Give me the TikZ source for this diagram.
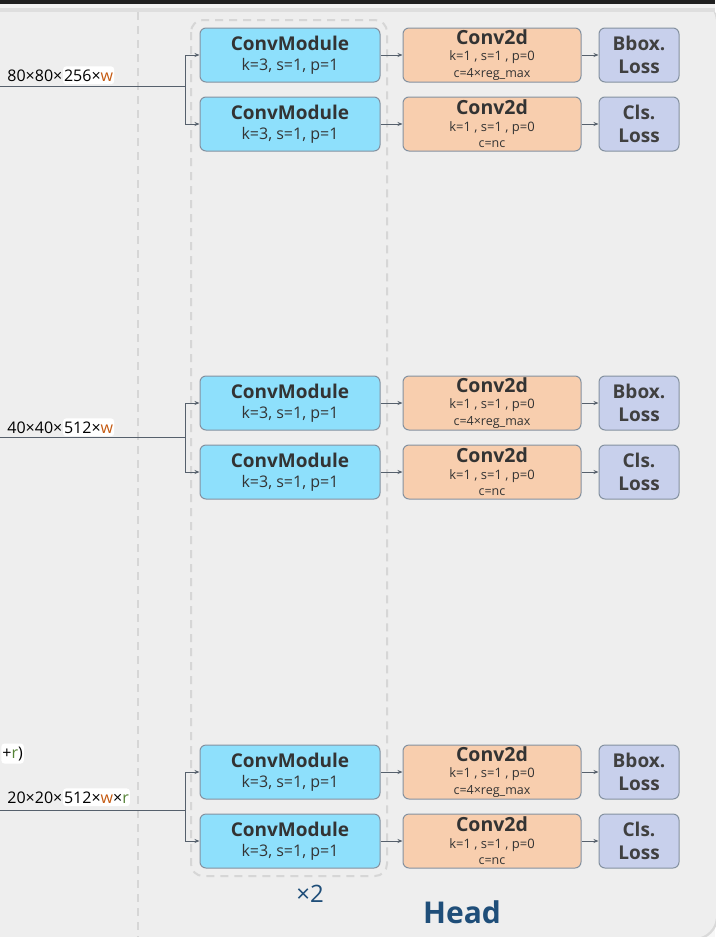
\documentclass[tikz,border=0pt]{standalone}
\usepackage{fontspec}
\setmainfont{Open Sans}
\usetikzlibrary{positioning,arrows.meta}

\definecolor{panel}{HTML}{EEEEEE}
\definecolor{cmfill}{HTML}{8EE0FC}
\definecolor{cdfill}{HTML}{F8CEAE}
\definecolor{lossfill}{HTML}{C8D0EC}
\definecolor{boxline}{HTML}{8491A0}
\definecolor{wire}{HTML}{56606C}
\definecolor{txt}{HTML}{333333}
\definecolor{wcol}{HTML}{C55A11}
\definecolor{rcol}{HTML}{548235}
\definecolor{headblue}{HTML}{1F4E79}
\definecolor{dashgray}{HTML}{D6D6D6}

\newcommand{\cmtext}{{\fontsize{19}{19}\selectfont\bfseries ConvModule}\\k=3, s=1, p=1}
\newcommand{\cdtext}[1]{{\fontsize{19.5}{19}\selectfont\bfseries Conv2d}\\k=1 , s=1 , p=0\\{\fontsize{12.5}{16}\selectfont #1}}

\begin{document}
\begin{tikzpicture}[x=1pt,y=-1pt,node distance=14pt and 22pt,thick,
  >={Stealth[length=5pt,width=4pt]},
  conv node/.style={rectangle,rounded corners=6pt,draw=boxline,line width=1pt,
    fill=cmfill,text=txt,minimum width=180pt,minimum height=54pt,
    align=center,inner sep=0pt,font=\fontsize{16}{19.5}\selectfont},
  head node/.style={conv node,fill=cdfill,minimum width=178pt,
    font=\fontsize{13}{16.5}\selectfont},
  loss node/.style={conv node,fill=lossfill,minimum width=80pt,text=black!75,
    font=\fontsize{19}{23}\selectfont\bfseries},
  size label/.style={inner sep=0pt,font=\fontsize{16}{18}\selectfont,text=black},
  white patch/.style={size label,fill=white,rounded corners=3pt,inner xsep=1pt,inner ysep=3pt}]

  % frame
  \useasboundingbox (0,0) rectangle (715,937);
  \fill[white!97!black] (0,0) rectangle (715,937);
  \fill[white!85!black,rounded corners=23pt] (-20,0) rectangle (718,940);
  \fill[panel,rounded corners=22pt] (-20,0) rectangle (716,938);
  \fill[black!88] (0,0) rectangle (715,4);
  \fill[white!95!black] (0,4) rectangle (715,8);
  \fill[white!87!black] (0,8) rectangle (715,12);
  \draw[dashgray,line width=2pt,dash pattern=on 8pt off 6pt] (138,12) -- (138,937);
  \draw[dashgray,line width=2pt,dash pattern=on 8pt off 6pt,rounded corners=12pt]
    (191,20) rectangle (387,876);

  % level 1
  \node[conv node] (c1a) at (290,55) {\cmtext};
  \node[conv node] (c1b) [below=of c1a] {\cmtext};
  \node[head node] (d1a) [right=of c1a] {\cdtext{c=4×reg\_max}};
  \node[head node] (d1b) [right=of c1b] {\cdtext{c=nc}};
  \node[loss node] (l1a) [right=17pt of d1a] {Bbox.\\Loss};
  \node[loss node] (l1b) [right=17pt of d1b] {Cls.\\Loss};

  % level 2
  \node[conv node] (c2a) at (290,403) {\cmtext};
  \node[conv node] (c2b) [below=of c2a] {\cmtext};
  \node[head node] (d2a) [right=of c2a] {\cdtext{c=4×reg\_max}};
  \node[head node] (d2b) [right=of c2b] {\cdtext{c=nc}};
  \node[loss node] (l2a) [right=17pt of d2a] {Bbox.\\Loss};
  \node[loss node] (l2b) [right=17pt of d2b] {Cls.\\Loss};

  % level 3
  \node[conv node] (c3a) at (290,772) {\cmtext};
  \node[conv node] (c3b) [below=of c3a] {\cmtext};
  \node[head node] (d3a) [right=of c3a] {\cdtext{c=4×reg\_max}};
  \node[head node] (d3b) [right=of c3b] {\cdtext{c=nc}};
  \node[loss node] (l3a) [right=17pt of d3a] {Bbox.\\Loss};
  \node[loss node] (l3b) [right=17pt of d3b] {Cls.\\Loss};

  % inputs
  \coordinate (in1) at (0,86);
  \coordinate (br1) at (185,86);
  \coordinate (in2) at (0,437);
  \coordinate (br2) at (185,437);
  \coordinate (in3) at (0,810);
  \coordinate (br3) at (185,810);

  \node[size label,anchor=base west] (t1a) at (7,81) {80×80×};
  \node[white patch,anchor=base west] (t1b) at (t1a.base east) {256×\textcolor{wcol}{w}};
  \node[size label,anchor=base west] (t2a) at (7,433) {40×40×};
  \node[white patch,anchor=base west] (t2b) at (t2a.base east) {512×\textcolor{wcol}{w}};
  \node[white patch,anchor=base west] (t0) at (1,758) {+\textcolor{rcol}{r})};
  \node[size label,anchor=base west] (t3a) at (7,803) {20×20×};
  \node[white patch,anchor=base west] (t3b) at (t3a.base east) {512×\textcolor{wcol}{w}×\textcolor{rcol}{r}};

  \path[wire,line width=1pt]
    (in1) edge (br1)
    (in2) edge (br2)
    (in3) edge (br3);
  \path[->,wire,line width=1pt]
    (br1) edge[to path={|- (\tikztotarget)}] (c1a)
          edge[to path={|- (\tikztotarget)}] (c1b)
    (br2) edge[to path={|- (\tikztotarget)}] (c2a)
          edge[to path={|- (\tikztotarget)}] (c2b)
    (br3) edge[to path={|- (\tikztotarget)}] (c3a)
          edge[to path={|- (\tikztotarget)}] (c3b)
    (c1a) edge (d1a)  (d1a) edge (l1a)
    (c1b) edge (d1b)  (d1b) edge (l1b)
    (c2a) edge (d2a)  (d2a) edge (l2a)
    (c2b) edge (d2b)  (d2b) edge (l2b)
    (c3a) edge (d3a)  (d3a) edge (l3a)
    (c3b) edge (d3b)  (d3b) edge (l3b);

  \node[text=headblue,font=\fontsize{24}{26}\selectfont] (rep) at (310,894) {×2};
  \node[text=headblue,font=\fontsize{30}{34}\selectfont\bfseries] (head) at (462,912) {Head};
\end{tikzpicture}
\end{document}
